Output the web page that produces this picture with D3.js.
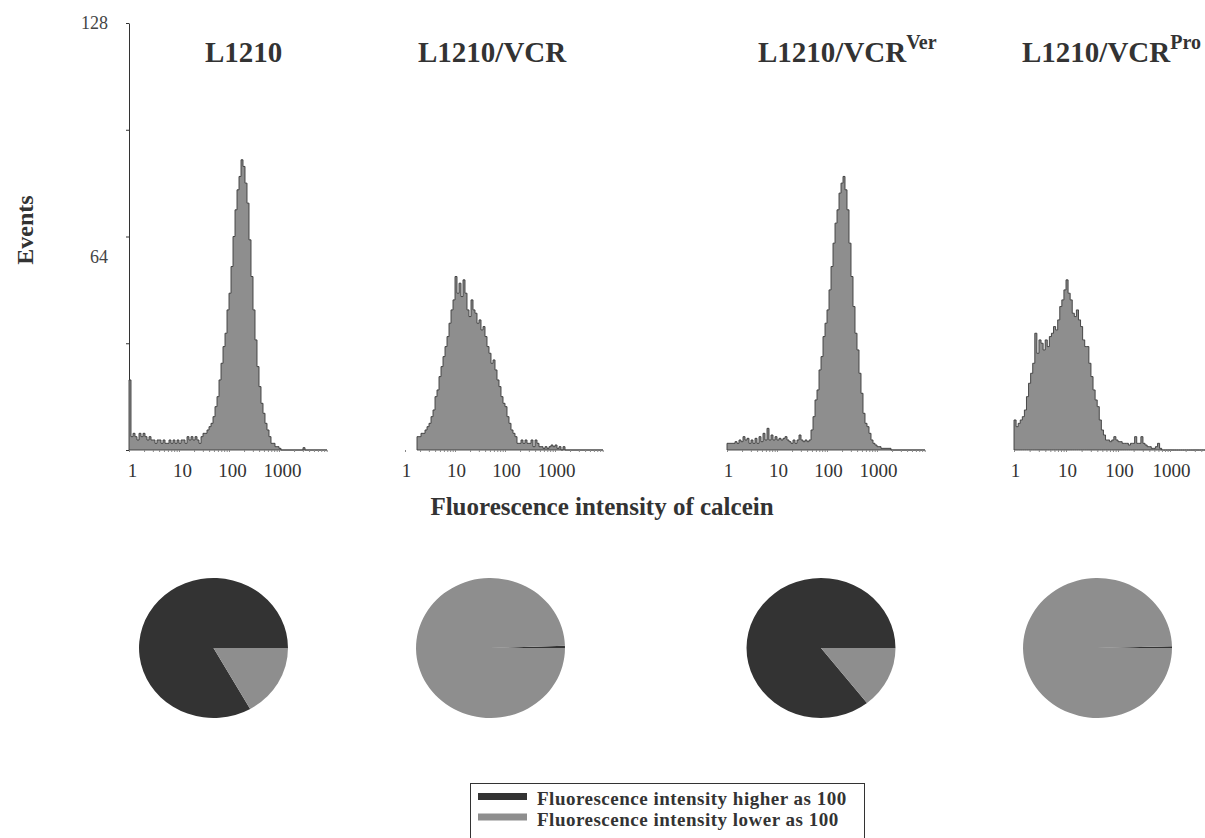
<!DOCTYPE html>
<html>
<head>
<meta charset="utf-8">
<script src="https://cdn.jsdelivr.net/npm/d3@7"></script>
<style>
  body { margin: 0; background: #fff; }
  svg { display: block; }
  svg text { font-family: "Liberation Serif", "Times New Roman", "DejaVu Serif", serif; }
</style>
</head>
<body>
<div id="chart"></div>
<script>
// cell lines
var lines = ["L1210", "L1210/VCR", "L1210/VCR", "L1210/VCR"]
var lineSup = ["", "", "Ver", "Pro"]

// histogram channels: channel i sits at 10^(i * channelStep)
var channelStep = 0.04

// events per channel
var hist1 = [21, 4, 5, 4, 3, 5, 4, 5, 4, 3, 4, 3, 3, 2, 3, 3, 2, 3, 2, 2, 3,
  2, 3, 2, 3, 2, 3, 3, 2, 4, 3, 4, 3, 4, 3, 2, 4, 5, 5, 6, 7, 8, 10, 13, 16, 21,
  26, 31, 35, 42, 47, 55, 64, 72, 78, 82, 87, 85, 80, 74, 63, 52, 42, 33, 25, 19,
  14, 11, 8, 6, 4, 2, 2, 1, 1, 0.5, 0, 0, 0, 0, 0, 0, 0, 0, 0, 0, 0, 0.7, 0, 0,
  0, 0, 0, 0, 0, 0, 0, 0, 0, 0]
var hist2 = [null, null, null, null, null, null, 4, 4, 5, 5, 6, 7, 8, 10, 12, 16,
  18, 22, 25, 28, 31, 34, 38, 42, 45, 52, 47, 50, 46, 51, 47, 42, 40, 45, 42, 41,
  38, 39, 36, 37, 34, 31, 29, 26, 27, 24, 21, 19, 16, 14, 13, 10, 8, 6, 5, 4, 2,
  2, 3, 2, 3, 2, 2, 3, 1, 3, 2, 1, 1, 0.5, 1, 0.5, 1, 1.5, 1, 1.5, 0.5, 1, 0, 1,
  0, 0, 0, 0, 0, 0, 0, 0, 0, 0, 0, 0, 0, 0, 0, 0, 0, 0, 0, 0]
var hist3 = [2, 2, 2, 2, 2.5, 2, 3, 2.5, 4, 3, 3.5, 2, 3, 2, 3.5, 2, 4, 2.5, 5, 3,
  6.5, 3, 4.5, 3, 4, 3, 3.5, 3, 3.5, 4, 3, 2.5, 2, 3, 2, 3, 4.5, 3, 2.5, 3, 2.5,
  3, 6, 10, 15, 18, 24, 28, 34, 38, 42, 48, 55, 62, 68, 72, 77, 80, 82, 78, 72,
  62, 52, 43, 35, 30, 23, 17, 11, 8, 7, 5, 3, 2, 1.5, 1, 1, 0.5, 0.5, 0.5, 0.5,
  0.5, 0, 0, 0, 0, 0, 0, 0, 0, 0, 0, 0, 0, 0, 0, 0, 0, 0, 0]
var hist4 = [9, 7, 8, 9, 10, 12, 16, 20, 23, 26, 35, 29, 33, 32, 30, 33, 31, 34,
  35, 37, 36, 39, 43, 45, 48, 51, 47, 45, 41, 40, 42, 39, 37, 33, 31, 31, 26, 22,
  18, 15, 13, 9, 6, 4.5, 3, 3, 2.5, 3, 4, 3, 2.5, 2.5, 2, 2, 2, 1.5, 2, 2, 4, 2,
  2, 4, 2, 1.5, 1, 1, 0.5, 0.5, 1, 2, 0.5, 0, 0, 0, 0, 0, 0, 0, 0, 0, 0, 0, 0, 0,
  0, 0, 0, 0, 0, 0, 0, 0, 0, 0, 0, 0, 0, 0, 0, 0]
var hists = [hist1, hist2, hist3, hist4]

// share of cells (%) above / below intensity 100
var higherShare = [83.2, 0.5, 85.6, 0.4]
var lowerShare = [16.8, 99.5, 14.4, 99.6]
var legendLabels = ["Fluorescence intensity higher as 100", "Fluorescence intensity lower as 100"]

var yTicks = [0, 32, 64, 96, 128]
var yLabels = [64, 128]

var dark = "#333333", grey = "#8e8e8e", ink = "#333"
var serif = "'Liberation Serif', 'Times New Roman', 'DejaVu Serif', serif"

var svg = d3.select("#chart").append("svg")
    .attr("width", 1205)
    .attr("height", 838)

var y = d3.scaleLinear().domain([0, 128]).range([450, 23])

// layout of the four panels
var panelX = [129, 405, 727, 1014]
var decadeW = [50, 50, 50, 52]
var titleX = [205, 418, 758, 1022]
var pieX = [213.5, 490.5, 821, 1097.5]

// y axis, first panel only
var yAxis = svg.append("g")
    .attr("transform", "translate(129,0)")
    .call(d3.axisLeft(y).tickValues(yTicks).tickSize(3).tickSizeOuter(0).tickPadding(18)
        .tickFormat(d => yLabels.indexOf(d) >= 0 ? d : ""))
    .attr("font-family", serif)
yAxis.select(".domain").attr("stroke", ink)
yAxis.selectAll(".tick line").attr("stroke", ink)
yAxis.selectAll(".tick text")
    .attr("fill", "#444")
    .style("font-size", "18px")
    .attr("dy", d => d == 64 ? "1.45em" : "0.32em")

svg.append("text")
    .text("Events")
    .attr("transform", "translate(33,230) rotate(-90)")
    .attr("text-anchor", "middle")
    .attr("fill", ink)
    .style("font-size", "24px")
    .style("font-weight", 700)

for (let p = 0; p < 4; p++) {
    var x = d3.scaleLog()
        .domain([1, 10000])
        .range([panelX[p], panelX[p] + 4 * decadeW[p]])

    var pts = hists[p].map((v, i) => ({ f: Math.pow(10, i * channelStep), v: v }))

    var area = d3.area()
        .defined(d => d.v != null)
        .x(d => x(d.f))
        .y0(y(0))
        .y1(d => y(d.v))
        .curve(d3.curveStepAfter)

    svg.append("path")
        .datum(pts)
        .attr("d", area)
        .attr("fill", grey)
        .attr("stroke", "#3a3a3a")
        .attr("stroke-width", 0.9)

    var xAxis = svg.append("g")
        .attr("transform", "translate(0,450)")
        .call(d3.axisBottom(x)
            .tickValues(x.ticks().filter(t => t < 10000))
            .tickSize(2)
            .tickPadding(12)
            .tickFormat(t => [1, 10, 100, 1000].indexOf(t) >= 0 ? t : ""))
        .attr("font-family", serif)
    xAxis.select(".domain").remove()
    xAxis.selectAll(".tick line").attr("stroke", "#888")
    xAxis.selectAll(".tick text")
        .attr("fill", ink)
        .attr("dx", p == 0 ? 3 : 1)
        .style("font-size", "19px")

    var title = svg.append("text")
        .attr("x", titleX[p])
        .attr("y", 62)
        .attr("fill", ink)
        .style("font-size", "29px")
        .style("font-weight", 700)
    title.append("tspan").text(lines[p])
    if (lineSup[p]) {
        title.append("tspan")
            .text(lineSup[p])
            .attr("dy", -13)
            .style("font-size", "20px")
    }

    // pie of cells above / below 100
    var pie = d3.pie().sort(null)
        .startAngle(Math.PI / 2 + 2 * Math.PI)
        .endAngle(Math.PI / 2)
    var arc = d3.arc().innerRadius(0).outerRadius(70)

    svg.append("g")
        .attr("transform", "translate(" + pieX[p] + ",648) scale(1.064,1)")
        .selectAll("path")
        .data(pie([higherShare[p], lowerShare[p]]))
        .enter()
        .append("path")
        .attr("d", arc)
        .attr("fill", (d, i) => i == 0 ? dark : grey)
}

svg.append("text")
    .text("Fluorescence intensity of calcein")
    .attr("x", 602)
    .attr("y", 515)
    .attr("text-anchor", "middle")
    .attr("fill", ink)
    .style("font-size", "25px")
    .style("font-weight", 700)

// legend
var legend = svg.append("g")
legend.append("rect")
    .attr("x", 470.5)
    .attr("y", 783.5)
    .attr("width", 394)
    .attr("height", 70)
    .attr("fill", "none")
    .attr("stroke", ink)

legend.selectAll("rect.sw")
    .data(legendLabels)
    .enter()
    .append("rect")
    .attr("class", "sw")
    .attr("x", 478)
    .attr("y", (d, i) => 793 + i * 20.5)
    .attr("width", 49)
    .attr("height", 7)
    .attr("fill", (d, i) => i == 0 ? dark : grey)

legend.selectAll("text")
    .data(legendLabels)
    .enter()
    .append("text")
    .text(d => d)
    .attr("x", 537)
    .attr("y", (d, i) => 805 + i * 21)
    .attr("fill", ink)
    .style("font-size", "19px")
    .style("font-weight", 700)
    .style("letter-spacing", "0.5px")
</script>
</body>
</html>
